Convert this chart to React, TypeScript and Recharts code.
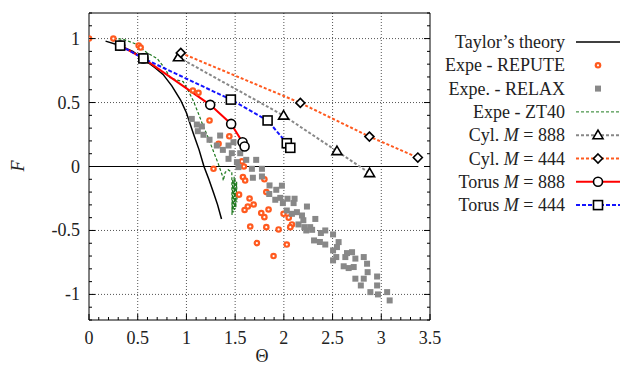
import React from "react";
import { ComposedChart, Line, Scatter, XAxis, YAxis, ReferenceLine } from "recharts";

// [Θ, F] pairs
const TAYLOR = [
  [0.17, 0.98], [0.3, 0.95], [0.45, 0.9], [0.56, 0.84], [0.68, 0.77], [0.76, 0.72],
  [0.85, 0.63], [0.94, 0.52], [1.0, 0.42], [1.07, 0.26], [1.13, 0.13], [1.18, 0.0],
  [1.23, -0.1], [1.28, -0.21], [1.32, -0.3], [1.36, -0.41],
];

const REPUTE = [
  [0, 1.0], [0.25, 1.0], [0.51, 0.945], [0.53, 0.93], [1.066, 0.594], [1.124, 0.576],
  [1.237, 0.36], [1.44, 0.236], [1.33, 0.177], [1.278, -0.018], [1.54, -0.22],
  [1.57, 0.04], [1.59, 0.0], [1.58, -0.083], [1.603, -0.11], [1.8, -0.1], [1.82, -0.2],
  [1.648, -0.25], [1.69, -0.297], [1.63, -0.313], [1.597, -0.34], [1.843, -0.336],
  [1.768, -0.364], [1.8, -0.396], [1.997, -0.37], [2.05, -0.4], [2.083, -0.453],
  [1.655, -0.469], [1.82, -0.474], [1.946, -0.492], [2.066, -0.474], [1.723, -0.599],
  [2.03, -0.61], [1.894, -0.7],
];

const RELAX = [
  [1.055, 0.372], [1.107, 0.328], [1.158, 0.313], [1.117, 0.276], [1.175, 0.248],
  [1.237, 0.209], [1.346, 0.242], [1.312, 0.164], [1.374, 0.13], [1.432, 0.164],
  [1.483, 0.19], [1.466, 0.104], [1.552, 0.104], [1.432, 0.06], [1.518, 0.034],
  [1.614, 0.052], [1.716, 0.052], [1.534, -0.005], [1.672, -0.018], [1.775, -0.018],
  [1.682, -0.088], [1.775, -0.078], [1.853, -0.148], [1.922, -0.182], [1.98, -0.15],
  [1.85, -0.215], [1.912, -0.26], [1.963, -0.245], [2.038, -0.252], [1.99, -0.286],
  [2.11, -0.252], [2.1, -0.286], [2.237, -0.313], [2.03, -0.344], [2.083, -0.37],
  [2.134, -0.357], [2.186, -0.383], [2.2, -0.42], [2.15, -0.453], [2.21, -0.474],
  [2.323, -0.41], [2.27, -0.474], [2.23, -0.5], [2.29, -0.495], [2.38, -0.52],
  [2.425, -0.5], [2.505, -0.531], [2.31, -0.578], [2.37, -0.59], [2.425, -0.61],
  [2.562, -0.591], [2.545, -0.63], [2.505, -0.656], [2.538, -0.708], [2.505, -0.734],
  [2.631, -0.708], [2.648, -0.677], [2.7, -0.67], [2.734, -0.72], [2.82, -0.708],
  [2.614, -0.78], [2.665, -0.794], [2.717, -0.786], [2.854, -0.76], [2.86, -0.826],
  [2.734, -0.877], [2.82, -0.877], [2.79, -0.93], [2.957, -0.86], [2.957, -0.93],
  [2.888, -0.982], [2.966, -1.0], [3.06, -0.982], [3.086, -1.047],
];

const ZT40 = [
  [0.25, 1.0], [0.35, 0.995], [0.473, 0.96], [0.596, 0.89], [0.7, 0.844], [0.78, 0.766],
  [0.83, 0.695], [0.9, 0.677], [0.966, 0.664], [1.017, 0.594], [1.069, 0.516],
  [1.12, 0.42], [1.17, 0.32], [1.223, 0.227], [1.274, 0.125], [1.326, 0.023],
  [1.374, -0.083], [1.378, -0.11], [1.398, -0.045], [1.43, -0.026], [1.466, -0.045],
  [1.468, -0.38], [1.475, -0.1], [1.48, -0.36], [1.49, -0.08], [1.495, -0.34],
  [1.5, -0.1], [1.507, -0.32], [1.515, -0.12], [1.52, -0.28],
];

const CYL_888 = [[0.918, 0.854], [1.997, 0.398], [2.545, 0.12], [2.88, -0.052]];
const CYL_444 = [[0.942, 0.888], [2.169, 0.497], [2.878, 0.234], [3.375, 0.07]];
const TORUS_888 = [[0.32, 0.945], [0.558, 0.845], [1.244, 0.482], [1.459, 0.333], [1.576, 0.19], [1.597, 0.156]];
const TORUS_444 = [[0.32, 0.945], [0.558, 0.845], [1.456, 0.523], [1.833, 0.36], [2.03, 0.182], [2.066, 0.146]];

const X_TICKS = Array.from({ length: 36 }, (_, i) => +(i * 0.1).toFixed(1));
const Y_TICKS = Array.from({ length: 25 }, (_, i) => +(-1.2 + i * 0.1).toFixed(1));
const X_GRID = [0.5, 1, 1.5, 2, 2.5, 3];
const Y_GRID = [-1, -0.5, 0.5, 1];

const pts = (a: number[][]) => a.map(([x, y]) => ({ x, y }));
const isMajor = (v: number) => Math.abs(v * 2 - Math.round(v * 2)) < 1e-6;

const FONT = "'Liberation Serif', 'DejaVu Serif', serif";
const TXT = { fontFamily: FONT, fontSize: 18, fill: "#222" };
const ORANGE = "#ff5a1f";
const GREY = "#888888";
const GREEN = "#1f7a1f";

const BottomTick = (p: any) => {
  const major = isMajor(p.payload.value);
  return (
    <g>
      <line x1={p.x} x2={p.x} y1={p.y} y2={p.y - (major ? 6 : 3)} stroke="#000" />
      {major && (
        <text x={p.x} y={p.y + 24} textAnchor="middle" style={TXT}>
          {String(p.payload.value)}
        </text>
      )}
    </g>
  );
};
const TopTick = (p: any) => (
  <line x1={p.x} x2={p.x} y1={p.y} y2={p.y + (isMajor(p.payload.value) ? 6 : 3)} stroke="#000" />
);
const LeftTick = (p: any) => {
  const major = isMajor(p.payload.value);
  return (
    <g>
      <line x1={p.x} x2={p.x + (major ? 6 : 3)} y1={p.y} y2={p.y} stroke="#000" />
      {major && (
        <text x={p.x - 9} y={p.y + 6} textAnchor="end" style={TXT}>
          {String(p.payload.value)}
        </text>
      )}
    </g>
  );
};
const RightTick = (p: any) => (
  <line x1={p.x} x2={p.x - (isMajor(p.payload.value) ? 6 : 3)} y1={p.y} y2={p.y} stroke="#000" />
);

const Repute = ({ cx, cy }: any) => (
  <g>
    <circle cx={cx} cy={cy} r={3.3} fill={ORANGE} />
    <circle cx={cx} cy={cy} r={1.1} fill="#fff" />
  </g>
);
const Relax = ({ cx, cy }: any) => <rect x={cx - 3} y={cy - 3} width={6} height={6} fill={GREY} />;
const Tri = ({ cx, cy }: any) => (
  <path d={`M${cx},${cy - 5}L${cx + 5},${cy + 3.5}L${cx - 5},${cy + 3.5}Z`} fill="#fff" stroke="#000" strokeWidth={1.6} />
);
const Dia = ({ cx, cy }: any) => (
  <path d={`M${cx},${cy - 4.5}L${cx + 4.5},${cy}L${cx},${cy + 4.5}L${cx - 4.5},${cy}Z`} fill="#fff" stroke="#000" strokeWidth={1.6} />
);
const Circ = ({ cx, cy }: any) => <circle cx={cx} cy={cy} r={4.5} fill="#fff" stroke="#000" strokeWidth={1.6} />;
const Sq = ({ cx, cy }: any) => (
  <rect x={cx - 4.5} y={cy - 4.5} width={9} height={9} fill="#fff" stroke="#000" strokeWidth={1.6} />
);

const LEGEND = [
  { label: "Taylor\u2019s theory", stroke: "#000", dash: undefined, width: 1.5, mark: null },
  { label: "Expe - REPUTE", stroke: null, mark: Repute },
  { label: "Expe. - RELAX", stroke: null, mark: Relax },
  { label: "Expe - ZT40", stroke: GREEN, dash: "3 2", width: 1, mark: null },
  { label: "Cyl.", m: "888", stroke: GREY, dash: "3 2", width: 2, mark: Tri },
  { label: "Cyl.", m: "444", stroke: ORANGE, dash: "3 2", width: 2, mark: Dia },
  { label: "Torus", m: "888", stroke: "#ff0000", dash: undefined, width: 2, mark: Circ },
  { label: "Torus", m: "444", stroke: "#1414ff", dash: "4 2", width: 2, mark: Sq },
];

function Key() {
  return (
    <svg width={623} height={367} style={{ position: "absolute", left: 0, top: 0, pointerEvents: "none" }}>
      {LEGEND.map((e: any, i) => {
        const cy = 42 + i * 23.3;
        const Mark = e.mark;
        return (
          <g key={i}>
            <text x={565} y={cy + 6} textAnchor="end" style={TXT}>
              {e.label}
              {e.m && (
                <>
                  {" "}
                  <tspan fontStyle="italic">M</tspan>
                  {" = " + e.m}
                </>
              )}
            </text>
            {e.stroke && (
              <line x1={576} x2={620} y1={cy} y2={cy} stroke={e.stroke} strokeWidth={e.width} strokeDasharray={e.dash} />
            )}
            {Mark && <Mark cx={598} cy={cy} />}
          </g>
        );
      })}
    </svg>
  );
}

export default function App() {
  return (
    <div style={{ position: "absolute", left: 0, top: 0, width: 623, height: 367, background: "#fff" }}>
      <ComposedChart width={623} height={367} margin={{ top: 12, right: 192, bottom: 46, left: 88 }}>
        <XAxis type="number" dataKey="x" domain={[0, 3.5]} ticks={X_TICKS} interval={0} height={1}
          tickSize={0} tickMargin={0} tickLine={false} axisLine={{ stroke: "#000" }} tick={BottomTick} allowDataOverflow />
        <XAxis xAxisId="top" orientation="top" type="number" domain={[0, 3.5]} ticks={X_TICKS} interval={0} height={1}
          tickSize={0} tickMargin={0} tickLine={false} axisLine={{ stroke: "#000" }} tick={TopTick} allowDataOverflow />
        <YAxis type="number" dataKey="y" domain={[-1.2, 1.2]} ticks={Y_TICKS} interval={0} width={1}
          tickSize={0} tickMargin={0} tickLine={false} axisLine={{ stroke: "#000" }} tick={LeftTick} allowDataOverflow />
        <YAxis yAxisId="right" orientation="right" type="number" domain={[-1.2, 1.2]} ticks={Y_TICKS} interval={0} width={1}
          tickSize={0} tickMargin={0} tickLine={false} axisLine={{ stroke: "#000" }} tick={RightTick} allowDataOverflow />

        {X_GRID.map((v) => (
          <ReferenceLine key={"gx" + v} x={v} stroke="#555" strokeDasharray="1 2" />
        ))}
        {Y_GRID.map((v) => (
          <ReferenceLine key={"gy" + v} y={v} stroke="#555" strokeDasharray="1 2" />
        ))}
        <ReferenceLine segment={[{ x: 0, y: 0 }, { x: 3.38, y: 0 }]} stroke="#000" />

        <Line data={pts(TAYLOR)} dataKey="y" type="linear" stroke="#000" strokeWidth={1.5} dot={false} activeDot={false} isAnimationActive={false} />
        <Scatter data={pts(REPUTE)} shape={Repute} isAnimationActive={false} />
        <Scatter data={pts(RELAX)} shape={Relax} isAnimationActive={false} />
        <Line data={pts(ZT40)} dataKey="y" type="linear" stroke={GREEN} strokeWidth={1.2} strokeDasharray="3 2" dot={false} activeDot={false} isAnimationActive={false} />
        <Line data={pts(CYL_888)} dataKey="y" type="linear" stroke={GREY} strokeWidth={2} strokeDasharray="3 2"
          dot={(p: any) => <Tri key={p.index} cx={p.cx} cy={p.cy} />} activeDot={false} isAnimationActive={false} />
        <Line data={pts(CYL_444)} dataKey="y" type="linear" stroke={ORANGE} strokeWidth={2} strokeDasharray="3 2"
          dot={(p: any) => <Dia key={p.index} cx={p.cx} cy={p.cy} />} activeDot={false} isAnimationActive={false} />
        <Line data={pts(TORUS_888)} dataKey="y" type="linear" stroke="#ff0000" strokeWidth={2}
          dot={(p: any) => <Circ key={p.index} cx={p.cx} cy={p.cy} />} activeDot={false} isAnimationActive={false} />
        <Line data={pts(TORUS_444)} dataKey="y" type="linear" stroke="#1414ff" strokeWidth={2} strokeDasharray="4 2"
          dot={(p: any) => <Sq key={p.index} cx={p.cx} cy={p.cy} />} activeDot={false} isAnimationActive={false} />
      </ComposedChart>
      <svg width={623} height={367} style={{ position: "absolute", left: 0, top: 0, pointerEvents: "none" }}>
        <text x={262} y={362} textAnchor="middle" style={TXT}>Θ</text>
        <text x={24} y={166} textAnchor="middle" style={{ ...TXT, fontStyle: "italic" }}
          transform="rotate(-90 24 166)">F</text>
      </svg>
      <Key />
    </div>
  );
}
